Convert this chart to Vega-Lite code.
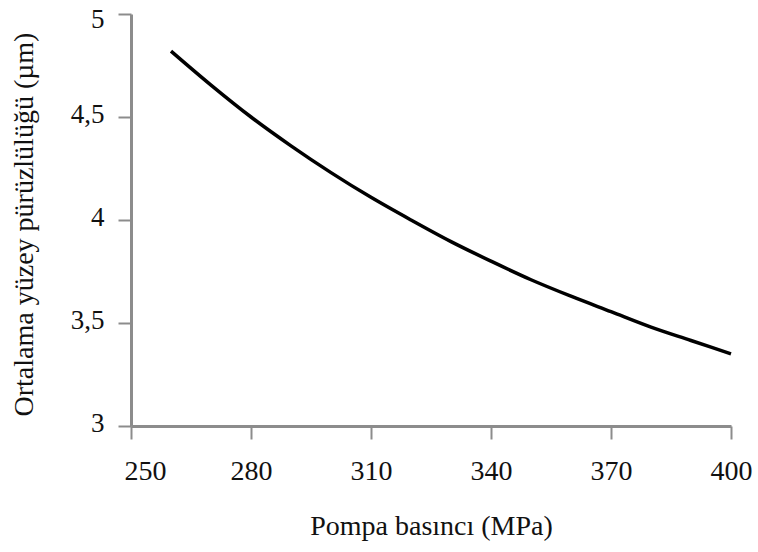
{
  "$schema": "https://vega.github.io/schema/vega-lite/v6.json",
  "width": 600,
  "height": 412,
  "autosize": {"type": "none"},
  "padding": {"left": 131, "top": 14, "right": 27, "bottom": 126},
  "background": "white",
  "config": {
    "view": {"stroke": null},
    "font": "Liberation Serif",
    "axis": {
      "grid": false,
      "domainColor": "#8c8c8c",
      "domainWidth": 3,
      "tickColor": "#8c8c8c",
      "tickWidth": 2,
      "tickSize": 13,
      "labelFont": "Liberation Serif",
      "labelFontSize": 28,
      "labelColor": "#111111",
      "titleFont": "Liberation Serif",
      "titleFontSize": 28,
      "titleFontWeight": "normal",
      "titleColor": "#111111"
    }
  },
  "data": {
    "values": [
      {"p": 260, "r": 4.82},
      {"p": 270, "r": 4.655},
      {"p": 280, "r": 4.5},
      {"p": 290, "r": 4.36},
      {"p": 300, "r": 4.23},
      {"p": 310, "r": 4.11},
      {"p": 320, "r": 4.0},
      {"p": 330, "r": 3.895},
      {"p": 340, "r": 3.8},
      {"p": 350, "r": 3.71},
      {"p": 360, "r": 3.63},
      {"p": 370, "r": 3.555},
      {"p": 380, "r": 3.48},
      {"p": 390, "r": 3.415},
      {"p": 400, "r": 3.35}
    ]
  },
  "mark": {"type": "line", "color": "black", "strokeWidth": 3.5, "interpolate": "monotone"},
  "encoding": {
    "x": {
      "field": "p",
      "type": "quantitative",
      "scale": {"domain": [250, 400], "nice": false, "zero": false},
      "axis": {
        "title": "Pompa basıncı (MPa)",
        "values": [250, 280, 310, 340, 370, 400],
        "labelFlush": false,
        "labelPadding": 18,
        "labelOffset": {"condition": {"test": "datum.value == 250", "value": 14}, "value": 0},
        "titlePadding": 27
      }
    },
    "y": {
      "field": "r",
      "type": "quantitative",
      "scale": {"domain": [3, 5], "nice": false, "zero": false},
      "axis": {
        "title": "Ortalama yüzey pürüzlülüğü (µm)",
        "values": [3, 3.5, 4, 4.5, 5],
        "labelExpr": "replace(format(datum.value, '.1~f'), '.', ',')",
        "labelFontSize": 27,
        "labelFlush": false,
        "labelPadding": 14,
        "labelOffset": {"condition": {"test": "datum.value == 5", "value": 5}, "value": -3},
        "titlePadding": 32,
        "titleY": 210
      }
    }
  }
}
